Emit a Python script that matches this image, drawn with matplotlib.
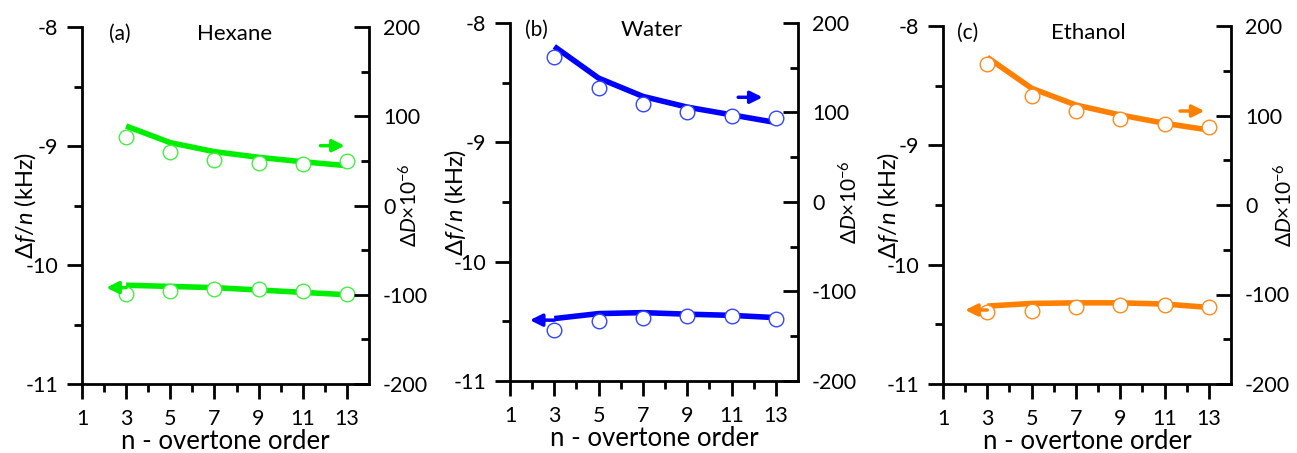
import matplotlib
matplotlib.use('Agg')
import matplotlib.pyplot as plt

plt.rcParams['font.family'] = ['Lato', 'DejaVu Sans']
plt.rcParams['mathtext.fontset'] = 'custom'
plt.rcParams['mathtext.it'] = 'Lato:italic'
plt.rcParams['mathtext.rm'] = 'Lato'

# overtone orders
n = [3, 5, 7, 9, 11, 13]

# frequency shift df/n (kHz) - measured and fitted
df_hexane = [-10.24, -10.216, -10.20, -10.204, -10.22, -10.245]
df_hexane_fit = [-10.17, -10.18, -10.19, -10.21, -10.23, -10.25]
df_water = [-10.569, -10.499, -10.469, -10.455, -10.458, -10.477]
df_water_fit = [-10.477, -10.435, -10.427, -10.44, -10.45, -10.469]
df_ethanol = [-10.395, -10.386, -10.353, -10.339, -10.339, -10.358]
df_ethanol_fit = [-10.347, -10.325, -10.32, -10.32, -10.33, -10.358]

# dissipation shift dD (x1e-6) - measured and fitted
dD_hexane = [76.4, 59.6, 51.3, 48.0, 46.8, 49.5]
dD_hexane_fit = [89, 70.4, 60.3, 54, 49, 44.6]
dD_water = [162, 127.3, 109.3, 101, 96.2, 94]
dD_water_fit = [173.8, 138.4, 118, 106, 97.4, 88.8]
dD_ethanol = [157.2, 122.1, 105.4, 96.4, 90.2, 87.2]
dD_ethanol_fit = [165, 130.4, 111.7, 100.6, 91.3, 83.8]

panels = [
    dict(tag='(a)', name='Hexane', color='#00ee00', mec='#44ee44',
         df=df_hexane, df_fit=df_hexane_fit, dD=dD_hexane, dD_fit=dD_hexane_fit,
         pos=[82, 27, 287, 357], tag_x=2.7, name_x=7.9,
         larrow=(2.1, -10.19), rarrow=(11.8, 12.9, 67), ylx=-57, yrx=41),
    dict(tag='(b)', name='Water', color='#0000ff', mec='#3344ff',
         df=df_water, df_fit=df_water_fit, dD=dD_water, dD_fit=dD_water_fit,
         pos=[510, 23, 288, 358], tag_x=2.2, name_x=7.4,
         larrow=(1.9, -10.49), rarrow=(11.3, 12.4, 117), ylx=-55, yrx=52),
    dict(tag='(c)', name='Ethanol', color='#ff8000', mec='#ff8a1a',
         df=df_ethanol, df_fit=df_ethanol_fit, dD=dD_ethanol, dD_fit=dD_ethanol_fit,
         pos=[943, 26, 288, 358], tag_x=2.1, name_x=7.56,
         larrow=(2.0, -10.38), rarrow=(11.7, 12.8, 105), ylx=-55, yrx=54),
]

W, H = 1297, 453
fig = plt.figure(figsize=(W / 100, H / 100), dpi=100)

for p in panels:
    l, t, w, h = p['pos']
    ax = fig.add_axes([l / W, 1 - (t + h) / H, w / W, h / H])
    ax2 = ax.twinx()
    c = p['color']

    # left axis: df/n
    ax.plot(n, p['df_fit'], color=c, lw=4, solid_capstyle='butt', zorder=2)
    ax.plot(n, p['df'], 'o', ms=10.5, mfc='white', mec=p['mec'], mew=1.0, zorder=3)
    ax.annotate('', xy=(p['larrow'][0], p['larrow'][1]), xytext=(3, p['larrow'][1]),
                arrowprops=dict(arrowstyle='-|>', color=c, lw=2.5,
                                mutation_scale=18, shrinkA=0, shrinkB=0))
    ax.set_xlim(1, 14)
    ax.set_ylim(-11, -8)
    ax.set_xticks([1, 3, 5, 7, 9, 11, 13])
    ax.set_xticks([2, 4, 6, 8, 10, 12], minor=True)
    ax.set_yticks([-11, -10, -9, -8])
    ax.set_yticklabels(['-11', '-10', '-9', '-8'])
    ax.set_yticks([-10.5, -9.5, -8.5], minor=True)
    ax.tick_params(axis='both', which='major', direction='out', length=11, width=2,
                   labelsize=15.5)
    ax.tick_params(axis='x', which='major', pad=7)
    ax.tick_params(axis='y', which='major', pad=6)
    ax.tick_params(axis='both', which='minor', direction='out', length=5.5, width=2)
    ax.set_xlabel('n - overtone order', fontsize=18.5, labelpad=0)
    ax.set_ylabel(r'$\Delta f/n$ (kHz)', fontsize=17)
    ax.yaxis.label.set_va('center')
    ax.yaxis.set_label_coords(p['ylx'] / w, 0.5)
    ax.text(p['tag_x'], -8.06, p['tag'], fontsize=15, ha='center', va='center')
    ax.text(p['name_x'], -8.06, p['name'], fontsize=16, ha='center', va='center')

    # right axis: dD
    ax2.plot(n, p['dD_fit'], color=c, lw=4, solid_capstyle='butt', zorder=2)
    ax2.plot(n, p['dD'], 'o', ms=10.5, mfc='white', mec=p['mec'], mew=1.0, zorder=3)
    x0, x1, ya = p['rarrow']
    ax2.annotate('', xy=(x1, ya), xytext=(x0, ya),
                 arrowprops=dict(arrowstyle='-|>', color=c, lw=2.5,
                                 mutation_scale=18, shrinkA=0, shrinkB=0))
    ax2.set_ylim(-200, 200)
    ax2.set_yticks([-200, -100, 0, 100, 200])
    ax2.set_yticklabels(['-200', '-100', '0', '100', '200'])
    ax2.set_yticks([-150, -50, 50, 150], minor=True)
    ax2.tick_params(axis='y', which='major', direction='in', length=11, width=2,
                    labelsize=15.5, pad=10)
    ax2.tick_params(axis='y', which='minor', direction='in', length=5.5, width=2)
    ax2.set_ylabel(r'$\Delta D$$\times$10$^{-6}$', fontsize=15)
    ax2.yaxis.label.set_va('center')
    ax2.yaxis.set_label_coords(1 + p['yrx'] / w, 0.5)

    for a in (ax, ax2):
        a.spines['top'].set_visible(False)
        for s in ('left', 'right', 'bottom'):
            a.spines[s].set_linewidth(2)
    ax.spines['right'].set_visible(False)
    ax2.spines['left'].set_visible(False)
    ax2.spines['bottom'].set_visible(False)

fig.savefig('out.png', dpi=100)
